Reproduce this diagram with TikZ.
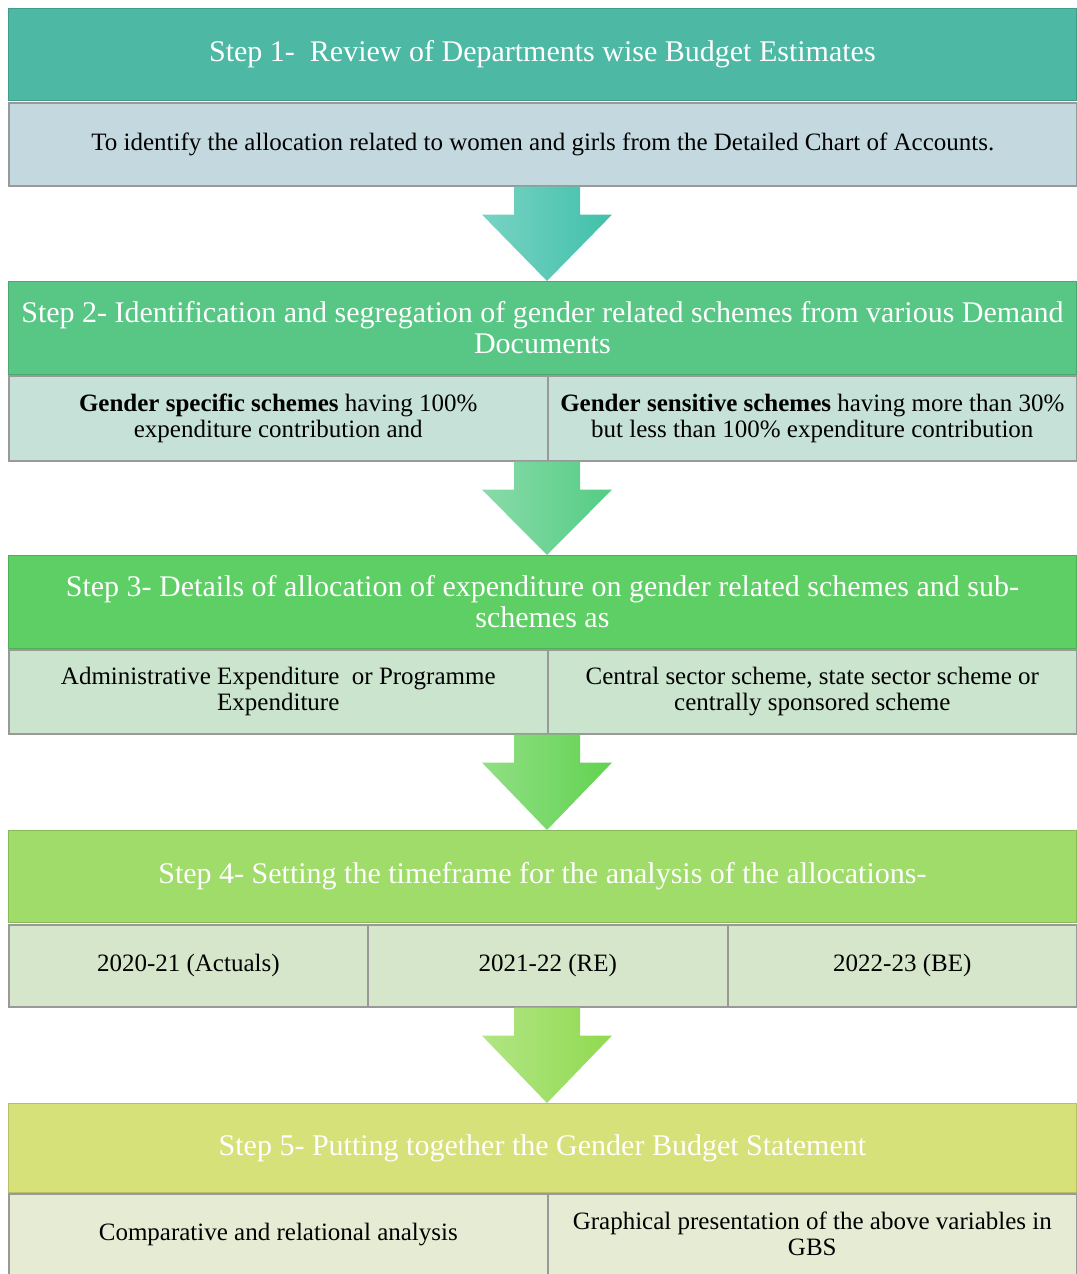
\documentclass[tikz,border=0pt]{standalone}
\usepackage{fontspec}
\setmainfont{Liberation Serif}
\usetikzlibrary{calc,positioning}
\tikzset{>=latex}
\definecolor{hOne}{HTML}{4DB8A4}
\definecolor{sOne}{HTML}{C4D9DF}
\definecolor{aOne}{HTML}{40C0AA}
\definecolor{hTwo}{HTML}{58C684}
\definecolor{sTwo}{HTML}{C6E1D8}
\definecolor{aTwo}{HTML}{55CC84}
\definecolor{hThree}{HTML}{5DCF64}
\definecolor{sThree}{HTML}{CAE4CD}
\definecolor{aThree}{HTML}{62D250}
\definecolor{hFour}{HTML}{9FDC69}
\definecolor{sFour}{HTML}{D5E6CA}
\definecolor{aFour}{HTML}{90DA50}
\definecolor{hFive}{HTML}{D6E17A}
\definecolor{sFive}{HTML}{E6ECD3}

\begin{document}
\begin{tikzpicture}[x=0.5pt, y=-0.5pt,
                    head/.style={anchor=north west, inner sep=1pt, align=center,
                                 minimum width=534pt, text=white,
                                 font=\fontsize{15}{15.5}\selectfont},
                    subbox/.style={anchor=north west, inner sep=1pt, align=center,
                                   draw=black!40, line width=0.8pt, text=black,
                                   font=\fontsize{12.5}{13}\selectfont}]
  \useasboundingbox (0,0) rectangle (1076,1274);
  \coordinate (mid) at (547,0);

  \def\flowarrow#1#2#3{ % block arrow from sub row down to next step
    \shade[left color=#3!70!white, right color=#3]
      let \p1=(#1.south -| mid), \p2=(#2.north -| mid) in
      (\x1-16.5pt,\y1) -- (\x1+16.5pt,\y1) -- (\x1+16.5pt,\y1-14pt)
      -- (\x1+32.5pt,\y1-14pt) -- (\x2,\y2) -- (\x1-32.5pt,\y1-14pt)
      -- (\x1-16.5pt,\y1-14pt) -- cycle;
  }

  % step 1
  \node[head, fill=hOne, draw=hOne!85!black, minimum height=46pt] (h1) at (8,8)
    {Step 1-\ \ Review of Departments wise Budget Estimates};
  \node[subbox, fill=sOne, minimum width=534pt, minimum height=41.5pt] (s1) at (8,102)
    {To identify the allocation related to women and girls from the Detailed Chart of Accounts.};

  % step 2
  \node[head, fill=hTwo, draw=hTwo!85!black, minimum height=46.5pt] (h2) at (8,281)
    {Step 2- Identification and segregation of gender related schemes from various Demand\\Documents};
  \node[subbox, fill=sTwo, minimum width=269.5pt, minimum height=42.5pt] (s2a) at (8,375)
    {\textbf{Gender specific schemes} having 100\%\\expenditure contribution and};
  \node[subbox, fill=sTwo, minimum width=264.5pt, minimum height=42.5pt] (s2b) at (547,375)
    {\textbf{Gender sensitive schemes} having more than 30\%\\but less than 100\% expenditure contribution};

  % step 3
  \node[head, fill=hThree, draw=hThree!85!black, minimum height=46.5pt] (h3) at (8,555)
    {Step 3- Details of allocation of expenditure on gender related schemes and sub-\\schemes as};
  \node[subbox, fill=sThree, minimum width=269.5pt, minimum height=42pt] (s3a) at (8,649)
    {Administrative Expenditure\ \ or Programme\\Expenditure};
  \node[subbox, fill=sThree, minimum width=264.5pt, minimum height=42pt] (s3b) at (547,649)
    {Central sector scheme, state sector scheme or\\centrally sponsored scheme};

  % step 4
  \node[head, fill=hFour, draw=hFour!85!black, minimum height=46pt] (h4) at (8,830)
    {Step 4- Setting the timeframe for the analysis of the allocations-};
  \node[subbox, fill=sFour, minimum width=179.5pt, minimum height=41pt] (s4a) at (8,924)
    {2020-21 (Actuals)};
  \node[subbox, fill=sFour, minimum width=180pt, minimum height=41pt] (s4b) at (367,924)
    {2021-22 (RE)};
  \node[subbox, fill=sFour, minimum width=174.5pt, minimum height=41pt] (s4c) at (727,924)
    {2022-23 (BE)};

  % step 5
  \node[head, fill=hFive, draw=hFive!85!black, minimum height=44.5pt] (h5) at (8,1103)
    {Step 5- Putting together the Gender Budget Statement};
  \node[subbox, fill=sFive, minimum width=269.5pt, minimum height=40.5pt] (s5a) at (8,1193)
    {Comparative and relational analysis};
  \node[subbox, fill=sFive, minimum width=264.5pt, minimum height=40.5pt] (s5b) at (547,1193)
    {Graphical presentation of the above variables in\\GBS};

  % arrows between steps
  \flowarrow{s1}{h2}{aOne}
  \flowarrow{s2a}{h3}{aTwo}
  \flowarrow{s3a}{h4}{aThree}
  \flowarrow{s4b}{h5}{aFour}

\end{tikzpicture}
\end{document}
